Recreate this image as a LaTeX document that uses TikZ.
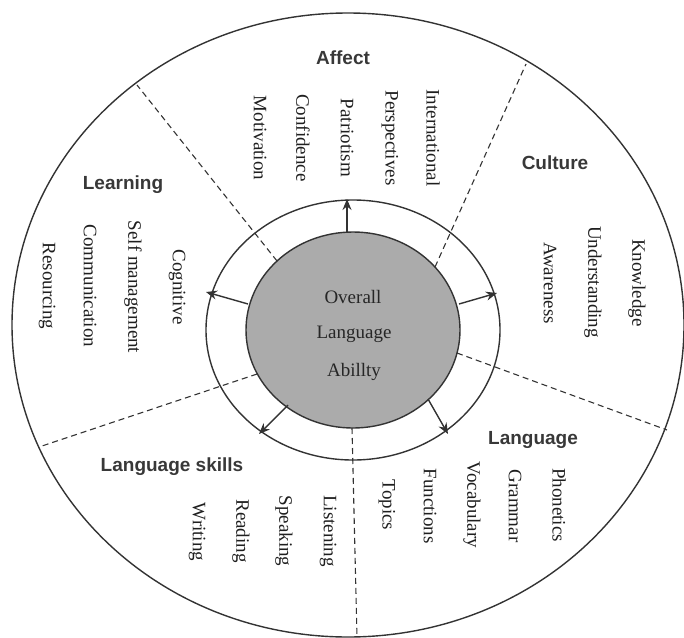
\documentclass[tikz,border=0pt]{standalone}
\usepackage{fontspec}
\setmainfont{Liberation Serif}
\setsansfont{Liberation Sans}
\usetikzlibrary{arrows.meta}
\begin{document}
\begin{tikzpicture}[x=1pt,y=-1pt,
  ln/.style={draw=black!80,line width=1.4pt},
  divider/.style={draw=black!80,line width=1.1pt,dash pattern=on 6pt off 4pt},
  arr/.style={draw=black!80,line width=1.4pt,-{Stealth[length=11pt,width=9pt]}},
  item/.style={rotate=-90,font=\fontsize{19}{22}\selectfont,text=black!88,inner sep=0pt},
  head/.style={font=\sffamily\bfseries\fontsize{19}{22}\selectfont,text=black!78,inner sep=0pt},
  mid/.style={font=\fontsize{19}{22}\selectfont,text=black!85,inner sep=0pt}]
\useasboundingbox (0,0) rectangle (684,637);
\coordinate (oc) at (348,325);
\coordinate (cc) at (353,330);
% rings
\draw[ln] (oc) ellipse [x radius=336pt, y radius=312pt];
\draw[ln] (cc) ellipse [x radius=147pt, y radius=130pt];
% dividers
\coordinate (d1a) at (277,261); \coordinate (d1b) at (137,85);
\coordinate (d2a) at (435,267); \coordinate (d2b) at (526,64);
\coordinate (d3a) at (457,353); \coordinate (d3b) at (667,430);
\coordinate (d4a) at (257,374); \coordinate (d4b) at (39,447);
\coordinate (d5a) at (352,428); \coordinate (d5b) at (357,637);
\draw[divider] (d1a) -- (d1b);
\draw[divider] (d2a) -- (d2b);
\draw[divider] (d3a) -- (d3b);
\draw[divider] (d4a) -- (d4b);
\draw[divider] (d5a) -- (d5b);
% core
\draw[ln, fill=black!33] (cc) ellipse [x radius=107pt, y radius=98pt];
% arrows
\coordinate (a1s) at (347,232); \coordinate (a1e) at (347,199);
\coordinate (a2s) at (459,304); \coordinate (a2e) at (497,293);
\coordinate (a3s) at (248,304); \coordinate (a3e) at (206,292);
\coordinate (a4s) at (288,405); \coordinate (a4e) at (259,434);
\coordinate (a5s) at (428,399); \coordinate (a5e) at (448,434);
\draw[arr] (a1s) -- (a1e);
\draw[arr] (a2s) -- (a2e);
\draw[arr] (a3s) -- (a3e);
\draw[arr] (a4s) -- (a4e);
\draw[arr] (a5s) -- (a5e);
% centre text
\node[mid] (c1) at (353,297) {Overall};
\node[mid] (c2) at (354,334) {Language};
\node[mid] (c3) at (354,372) {Abillty};
% Affect
\node[head] (hAff) at (343,58) {Affect};
\node[item] (mot) at (260,138) {Motivation};
\node[item] (con) at (303,138) {Confidence};
\node[item] (pat) at (347,138) {Patriotism};
\node[item] (per) at (390,138) {Perspectives};
\node[item] (int) at (433,138) {International};
% Learning
\node[head] (hLea) at (123,185) {Learning};
\node[item] (res) at (47,286) {Resourcing};
\node[item] (com) at (90,286) {Communication};
\node[item] (sel) at (133,287) {Self management};
\node[item] (cog) at (177,287) {Cognitive};
% Culture
\node[head] (hCul) at (555,163) {Culture};
\node[item] (awa) at (550,283) {Awareness};
\node[item] (und) at (593,282) {Understanding};
\node[item] (kno) at (637,283) {Knowledge};
% Language skills
\node[head] (hSki) at (172,467) {Language skills};
\node[item] (wri) at (197,532) {Writing};
\node[item] (rea) at (241,531) {Reading};
\node[item] (spe) at (284,531) {Speaking};
\node[item] (lis) at (328,531) {Listening};
% Language
\node[head] (hLan) at (533,440) {Language};
\node[item] (top) at (387,505) {Topics};
\node[item] (fun) at (430,506) {Functions};
\node[item] (voc) at (472,505) {Vocabulary};
\node[item] (gra) at (515,506) {Grammar};
\node[item] (pho) at (559,505) {Phonetics};
\end{tikzpicture}
\end{document}
